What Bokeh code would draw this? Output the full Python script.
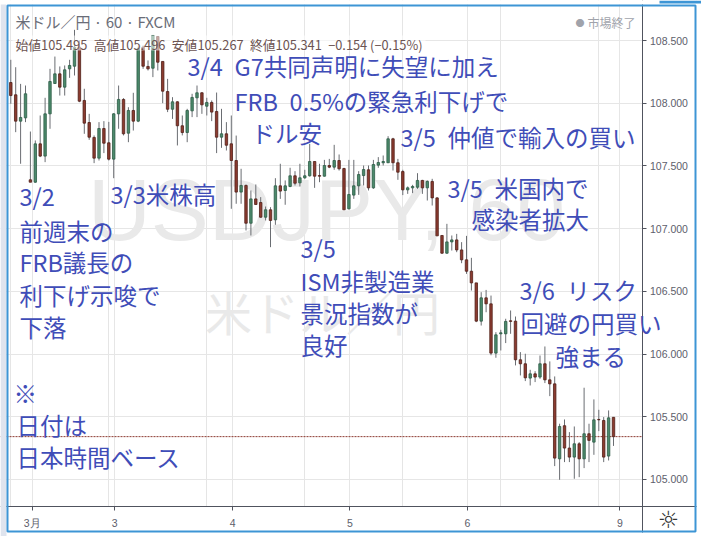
from bokeh.plotting import figure
from bokeh.models import ColumnDataSource, FixedTicker, Label, Span, BoxAnnotation, LinearAxis, Grid
from bokeh.embed import file_html
from bokeh.resources import INLINE

opens = [108.165,108.067,107.857,107.883,107.389,107.370,107.676,107.578,107.915,108.157,108.234,108.128,108.274,108.295,108.447,108.022,107.846,107.727,107.562,107.798,107.684,107.554,107.915,108.030,107.761,107.942,107.857,108.447,108.293,108.279,108.532,108.333,108.093,107.952,108.011,107.820,107.766,107.939,108.043,108.083,107.976,108.006,107.934,107.729,107.756,107.676,107.543,107.291,107.344,107.043,107.237,107.208,107.091,107.150,107.070,107.341,107.304,107.336,107.421,107.365,107.405,107.421,107.535,107.423,107.418,107.503,107.490,107.543,107.479,107.158,107.267,107.341,107.423,107.469,107.325,107.506,107.525,107.525,107.716,107.525,107.455,107.309,107.325,107.330,107.384,107.325,107.376,107.245,106.945,106.804,106.894,106.910,106.830,106.751,106.660,106.567,106.262,106.448,106.400,106.007,106.161,106.161,106.265,106.262,105.954,105.922,105.808,105.842,105.816,105.922,105.794,105.762,105.164,105.428,105.250,105.178,105.284,105.164,105.364,105.297,105.478,105.470,105.186,105.495]
highs = [108.346,108.287,108.154,108.141,107.774,107.703,107.902,108.043,108.274,108.372,108.293,108.301,108.346,108.585,108.500,108.115,107.915,107.743,107.849,107.857,107.851,107.921,108.141,108.040,107.968,108.083,108.452,108.460,108.341,108.540,108.532,108.333,108.194,108.048,108.016,107.902,107.955,108.075,108.141,108.088,108.043,108.022,108.085,107.955,107.849,107.902,107.742,107.477,107.352,107.304,107.352,107.251,107.176,107.171,107.402,107.517,107.384,107.485,107.458,107.517,107.469,107.676,107.535,107.517,107.548,107.556,107.668,107.591,107.485,107.548,107.548,107.458,107.503,107.503,107.548,107.570,107.583,107.737,107.724,107.556,107.469,107.336,107.349,107.442,107.389,107.384,107.397,107.251,106.945,107.038,106.945,106.958,106.892,106.942,106.767,106.567,106.493,106.511,106.466,106.174,106.193,106.281,106.347,106.299,106.015,106.002,105.874,105.863,105.988,106.060,105.941,105.821,105.444,105.478,105.377,105.422,105.297,105.731,105.444,105.638,105.555,105.497,105.550,105.496]
lows = [107.995,107.769,107.517,107.849,107.370,107.365,107.570,107.530,107.796,108.154,108.061,108.061,108.202,108.221,108.008,107.756,107.708,107.522,107.543,107.602,107.543,107.402,107.796,107.743,107.689,107.782,107.849,108.274,108.261,108.208,108.261,108.000,107.929,107.875,107.663,107.743,107.689,107.889,107.889,107.915,107.902,107.857,107.602,107.644,107.623,107.158,107.198,107.198,106.985,106.945,107.192,107.086,107.065,106.852,107.030,107.237,107.190,107.330,107.344,107.336,107.397,107.415,107.325,107.370,107.415,107.482,107.469,107.463,107.150,107.152,107.237,107.269,107.344,107.304,107.317,107.485,107.503,107.525,107.463,107.389,107.267,107.277,107.283,107.317,107.277,107.224,107.184,106.942,106.799,106.799,106.825,106.812,106.724,106.639,106.506,106.254,106.227,106.333,105.990,105.970,106.028,106.087,106.161,105.909,105.829,105.784,105.749,105.776,105.802,105.768,105.664,105.106,104.997,105.138,105.138,105.005,105.018,105.090,105.138,105.196,105.385,105.138,105.151,105.267]
closes = [108.061,107.857,107.886,108.075,107.370,107.676,107.578,107.915,108.173,108.234,108.128,108.266,108.301,108.447,108.016,107.841,107.729,107.562,107.798,107.681,107.554,107.915,108.030,107.756,107.942,107.857,108.434,108.295,108.274,108.540,108.327,108.096,107.952,108.011,107.820,107.766,107.942,108.046,108.083,107.987,108.006,107.929,107.729,107.756,107.665,107.543,107.291,107.344,107.043,107.237,107.192,107.091,107.150,107.065,107.341,107.299,107.341,107.421,107.362,107.405,107.421,107.535,107.418,107.418,107.503,107.490,107.543,107.477,107.150,107.272,107.341,107.431,107.471,107.325,107.511,107.527,107.535,107.716,107.525,107.450,107.309,107.325,107.336,107.384,107.325,107.376,107.245,106.942,106.804,106.894,106.910,106.830,106.751,106.660,106.567,106.262,106.448,106.400,106.007,106.153,106.169,106.260,106.260,105.954,105.922,105.810,105.842,105.816,105.922,105.794,105.762,105.170,105.422,105.250,105.178,105.284,105.164,105.364,105.311,105.475,105.475,105.178,105.491,105.341]

bar_index = list(range(len(closes)))
axis_ticks = [4.36, 21.2, 45.3, 69.2, 93.2, 124.3]
axis_labels = ["3月", "3", "4", "5", "6", "9"]
price_ticks = [105.0, 105.5, 106.0, 106.5, 107.0, 107.5, 108.0, 108.5]
last_close = 105.341

notes = [
    ("3/4\u2002G7共同声明に失望に加え", 187, 65),
    ("FRB\u20020.5%の緊急利下げで", 234, 100),
    ("ドル安", 251, 132),
    ("3/5\u2002仲値で輸入の買い", 400, 136),
    ("3/3米株高", 110, 193),
    ("3/2", 19, 195),
    ("前週末の", 19, 230),
    ("FRB議長の", 19, 261),
    ("利下げ示唆で", 19, 294),
    ("下落", 19, 326),
    ("3/5\u2002米国内で", 447, 187),
    ("感染者拡大", 471, 218),
    ("3/5", 300, 247),
    ("ISM非製造業", 300, 280),
    ("景況指数が", 300, 312),
    ("良好", 300, 344),
    ("3/6\u2002リスク", 519, 289),
    ("回避の円買い", 520, 322),
    ("強まる", 555, 355),
    ("※", 13, 392),
    ("日付は", 16, 424),
    ("日本時間ベース", 16, 456),
]

FIG_W, FIG_H = 701, 536
AXIS_X, AXIS_Y = 641.5, 506
PX = 4.9
X0 = 10.3
PY = 125.4


def to_bar(x):
    return (x - X0) / PX


def to_price(y):
    return 108.5 - (y - 40) / PY


p = figure(width=FIG_W, height=FIG_H, output_backend="svg", toolbar_location=None,
           x_range=(to_bar(0), to_bar(FIG_W)), y_range=(to_price(FIG_H), to_price(0)),
           x_axis_location=None, y_axis_location=None,
           min_border_left=0, min_border_top=0, min_border_right=0, min_border_bottom=0,
           outline_line_color=None, background_fill_color="white", border_fill_color="white")

AX = "#50535e"
TXT = "#5d606b"
xaxis = LinearAxis(fixed_location=to_price(AXIS_Y))
yaxis = LinearAxis(fixed_location=to_bar(AXIS_X))
for ax, ticks in ((xaxis, axis_ticks), (yaxis, price_ticks)):
    ax.ticker = FixedTicker(ticks=ticks)
    ax.axis_line_color = AX
    ax.major_tick_line_color = AX
    ax.major_tick_out = 4
    ax.major_tick_in = 0
    ax.minor_tick_line_color = None
    ax.major_label_text_color = TXT
    ax.major_label_text_font = "Liberation Sans"
    ax.major_label_text_font_size = "10.5px"
xaxis.major_label_overrides = dict(zip(axis_ticks, axis_labels))
yaxis.major_label_overrides = {t: f"{t:.3f}" for t in price_ticks}
xaxis.major_label_standoff = 6
yaxis.major_label_standoff = 4
p.add_layout(xaxis, "below")
p.add_layout(yaxis, "right")
p.add_layout(Grid(dimension=0, ticker=FixedTicker(ticks=axis_ticks), grid_line_color="#e6e6e6", grid_line_width=1))
p.add_layout(Grid(dimension=1, ticker=FixedTicker(ticks=price_ticks), grid_line_color="#e6e6e6", grid_line_width=1))


def label(text, x, y, size, color, font="Noto Sans CJK JP", level="annotation", align="left"):
    p.add_layout(Label(x=x, y=FIG_H - y, x_units="screen", y_units="screen", text=text,
                       text_font=font, text_font_size=f"{size}px", text_color=color,
                       text_align=align, text_baseline="middle", level=level))


def box(left, right, top, bottom, level="overlay", **kw):
    p.add_layout(BoxAnnotation(left=left, right=right, top=FIG_H - top, bottom=FIG_H - bottom,
                               left_units="screen", right_units="screen",
                               top_units="screen", bottom_units="screen", level=level, **kw))


p.add_layout(Span(location=last_close, dimension="width", line_color="#8c3b30",
                  line_dash="2 1", line_width=1, level="underlay"))

# grid and price line stop at the axes
box(AXIS_X, FIG_W, 0, FIG_H, level="underlay", fill_color="white", fill_alpha=1, line_color=None)
box(0, FIG_W, AXIS_Y, FIG_H, level="underlay", fill_color="white", fill_alpha=1, line_color=None)

label("USDJPY, 60", 326, 209, 87, "#e9e9e9", font="Liberation Sans", level="underlay", align="center")
label("米ドル／円", 322, 310, 47, "#e9e9e9", level="underlay", align="center")

up = [c >= o for o, c in zip(opens, closes)]
src = ColumnDataSource(dict(
    x=bar_index, low=lows, high=highs,
    top=[max(o, c) for o, c in zip(opens, closes)],
    bottom=[min(o, c) for o, c in zip(opens, closes)],
    fill=["#4c8a6c" if u else "#8c3b30" for u in up],
    edge=["#2c5a45" if u else "#4f1f18" for u in up],
))
p.segment("x", "low", "x", "high", source=src, line_color="#6a6d72", line_width=1)
p.vbar(x="x", top="top", bottom="bottom", width=0.5, source=src,
       fill_color="fill", line_color="edge", line_width=0.8)

box(12, 425, 35, 50, level="annotation", fill_color="white", fill_alpha=0.55, line_color=None)

label("米ドル／円 · 60 · FXCM", 15, 21, 15, "#6a6d78")
label("始値105.495\u2002高値105.496\u2002安値105.267\u2002終値105.341\u2002−0.154 (−0.15%)", 15, 44, 12.8, "#6b5352")
label("●", 575, 22, 9, "#a0a3ab")
label("市場終了", 587, 22, 12, "#a0a3ab")

for note in notes:
    label(note[0], note[1], note[2], 23.5, "#3f4db8")

label("☼", 668, 519, 24, "#333333", font="DejaVu Sans", align="center")

# window frame of the screenshot
box(0, FIG_W, 0, 4, fill_color="white", fill_alpha=1, line_color=None)
box(0, FIG_W, 532, FIG_H, fill_color="white", fill_alpha=1, line_color=None)
box(0, 6, 4, FIG_H, fill_color="#dfe4ee", fill_alpha=1, line_color=None)
box(696, FIG_W, 0, FIG_H, fill_color="white", fill_alpha=1, line_color=None)
box(659, FIG_W, 0, 3, fill_color="#3d95d5", fill_alpha=1, line_color=None)
box(7, 695, 5, 531, fill_alpha=0, line_color="#3d95d5", line_alpha=1, line_width=2)

html = file_html(p, INLINE)
open("out.html", "w").write(html)
